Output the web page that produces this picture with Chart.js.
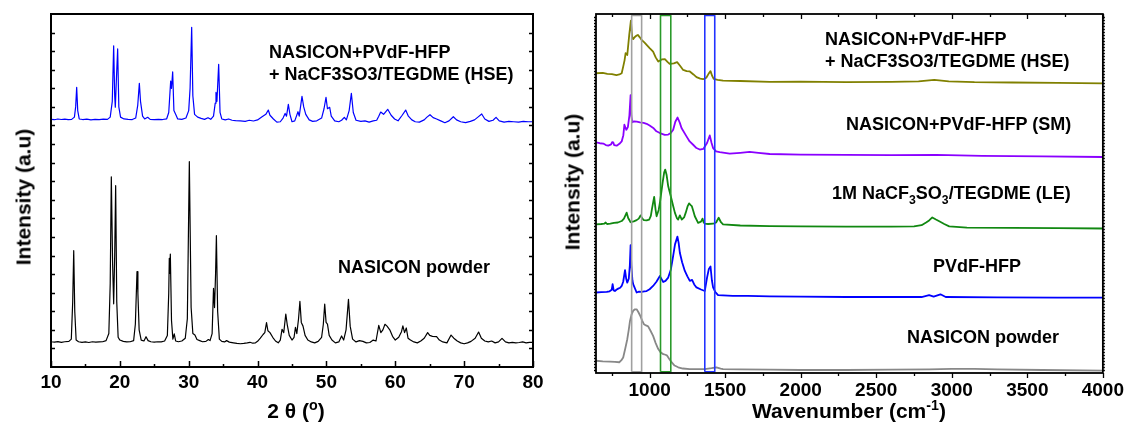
<!DOCTYPE html>
<html><head><meta charset="utf-8">
<script src="https://cdn.jsdelivr.net/npm/chart.js@4.4.1/dist/chart.umd.min.js"></script>
<style>
html,body{margin:0;padding:0;background:#fff;}
#wrap{position:relative;width:1130px;height:439px;overflow:hidden;font-family:"Liberation Sans",Arial,sans-serif;font-weight:bold;color:#000;}
canvas{position:absolute;left:0;top:0;}
.lbl{position:absolute;white-space:nowrap;font-size:18px;line-height:18px;}
.ttl{position:absolute;white-space:nowrap;font-size:21px;line-height:21px;}
.rot{transform:translate(-50%,-50%) rotate(-90deg);}
.ctr{transform:translateX(-50%);}
sub,sup{font-size:0.68em;line-height:0;}
</style></head>
<body><div id="wrap">
<canvas id="xrd" width="1130" height="439"></canvas>
<canvas id="ftir" width="1130" height="439"></canvas>
<div class="lbl" style="left:269px;top:43px">NASICON+PVdF-HFP</div>
<div class="lbl" style="left:269px;top:65px">+ NaCF3SO3/TEGDME (HSE)</div>
<div class="lbl" style="left:338px;top:258px">NASICON powder</div>
<div class="lbl" style="left:825px;top:30px">NASICON+PVdF-HFP</div>
<div class="lbl" style="left:825px;top:52px">+ NaCF3SO3/TEGDME (HSE)</div>
<div class="lbl" style="left:846px;top:115px">NASICON+PVdF-HFP (SM)</div>
<div class="lbl" style="left:832px;top:184px">1M NaCF<sub>3</sub>SO<sub>3</sub>/TEGDME (LE)</div>
<div class="lbl" style="left:933px;top:257px">PVdF-HFP</div>
<div class="lbl" style="left:907px;top:328px">NASICON powder</div>
<div class="ttl ctr" style="left:296px;top:400px">2&nbsp;θ&nbsp;(<sup>o</sup>)</div>
<div class="ttl ctr" style="left:849px;top:400px">Wavenumber (cm<sup>-1</sup>)</div>
<div class="ttl rot" style="left:23px;top:197px">Intensity (a.u)</div>
<div class="ttl rot" style="left:572px;top:182px">Intensity (a.u)</div>
</div>
<script>
// ---------- XRD panel data (2θ in degrees, intensity in arbitrary offset units) ----------
const xrdTicks = [10,20,30,40,50,60,70,80];
const xrdMinorTicks = [15,25,35,45,55,65,75];
const xrdNasicon = [
[10.0,5.4],[10.05,1.36],[10.5,1.34],[11.0,1.37],[11.5,1.33],[12.0,1.36],[12.6,1.38],[12.95,1.5],[13.15,3.5],[13.3,6.26],[13.45,3.0],[13.65,1.45],[14.0,1.36],[14.5,1.33],[15,1.35],[15.5,1.32],[16,1.36],[16.5,1.34],[17,1.35],[17.5,1.36],[18.0,1.42],[18.4,1.8],[18.6,4.5],[18.76,10.24],[18.95,5.5],[19.1,3.4],[19.25,6.0],[19.39,9.76],[19.55,3.5],[19.75,1.6],[20.0,1.45],[20.5,1.38],[21,1.35],[21.5,1.36],[22.0,1.42],[22.25,2.3],[22.49,5.13],[22.62,3.96],[22.8,2.0],[23.1,1.45],[23.5,1.4],[23.8,1.63],[24.1,1.42],[24.5,1.36],[25,1.34],[25.5,1.36],[26,1.35],[26.5,1.4],[26.9,1.7],[27.1,4.0],[27.18,5.85],[27.25,5.04],[27.33,6.08],[27.5,2.5],[27.7,1.5],[27.9,1.78],[28.1,1.4],[28.5,1.36],[29.0,1.4],[29.5,1.55],[29.8,2.6],[30.09,11.05],[30.35,3.2],[30.6,1.8],[30.9,1.72],[31.2,1.48],[31.6,1.42],[32.0,1.36],[32.5,1.38],[32.85,1.48],[33.1,1.42],[33.4,1.8],[33.6,4.23],[33.75,3.2],[33.9,5.0],[34.02,7.07],[34.2,3.0],[34.45,1.5],[34.8,1.38],[35.2,1.35],[35.5,1.42],[35.9,1.34],[36.5,1.3],[37,1.27],[37.5,1.25],[38,1.27],[38.5,1.3],[38.9,1.33],[39.3,1.28],[39.7,1.3],[40.0,1.38],[40.4,1.55],[40.8,1.75],[41.05,1.85],[41.3,2.39],[41.5,1.95],[41.8,1.85],[42.2,1.6],[42.6,1.4],[43.0,1.3],[43.3,1.45],[43.55,2.03],[43.8,1.85],[44.1,2.85],[44.3,2.3],[44.6,1.7],[45.0,1.45],[45.3,1.6],[45.5,2.13],[45.7,1.8],[45.95,2.6],[46.15,3.53],[46.35,2.4],[46.6,2.2],[46.9,1.7],[47.3,1.45],[47.8,1.35],[48.3,1.3],[48.8,1.38],[49.3,1.6],[49.55,2.3],[49.75,3.39],[49.95,2.4],[50.15,2.31],[50.4,1.7],[50.8,1.45],[51.3,1.3],[51.8,1.35],[52.2,1.67],[52.5,1.45],[52.85,2.0],[53.2,3.64],[53.45,2.2],[53.8,1.5],[54.3,1.35],[54.8,1.42],[55.3,1.38],[55.8,1.3],[56.3,1.32],[56.8,1.45],[57.2,1.4],[57.6,2.24],[57.9,1.85],[58.2,2.0],[58.5,2.30],[58.8,2.2],[59.2,2.0],[59.6,1.65],[60.0,1.45],[60.5,1.6],[60.9,1.9],[61.1,2.21],[61.35,1.85],[61.6,2.1],[61.85,1.55],[62.2,1.45],[62.7,1.35],[63.2,1.3],[63.7,1.4],[64.2,1.55],[64.7,1.85],[65.0,1.7],[65.4,1.65],[66.0,1.63],[66.4,1.45],[66.9,1.35],[67.5,1.3],[68.1,1.72],[68.5,1.55],[69.0,1.4],[69.5,1.3],[70.0,1.25],[70.5,1.3],[71.0,1.38],[71.6,1.55],[72.1,1.88],[72.5,1.55],[73.0,1.4],[73.5,1.35],[74.0,1.4],[74.5,1.3],[75.0,1.35],[75.5,1.54],[76.0,1.35],[76.5,1.3],[77.0,1.33],[77.5,1.3],[78,1.32],[78.5,1.35],[79,1.3],[79.5,1.33],[80,1.32]
];
const xrdHSE = [
[10.0,13.33],[10.5,13.31],[11,13.35],[11.5,13.32],[12,13.34],[12.5,13.31],[13.0,13.33],[13.4,13.45],[13.58,14.0],[13.73,15.05],[13.88,13.8],[14.1,13.35],[14.6,13.32],[15.2,13.34],[15.8,13.3],[16.4,13.33],[17.0,13.31],[17.6,13.34],[18.2,13.33],[18.6,13.45],[18.9,14.3],[19.1,17.29],[19.25,14.6],[19.34,13.98],[19.5,15.5],[19.68,17.12],[19.85,14.0],[20.1,13.45],[20.6,13.35],[21.2,13.33],[21.8,13.32],[22.3,13.4],[22.6,14.1],[22.83,15.27],[23.0,14.3],[23.3,13.5],[23.6,13.35],[24.04,13.44],[24.4,13.33],[25,13.31],[25.6,13.33],[26.2,13.32],[26.8,13.36],[27.1,13.7],[27.38,15.39],[27.5,15.0],[27.67,15.88],[27.85,13.8],[28.15,13.56],[28.4,13.35],[29,13.33],[29.6,13.4],[30.0,13.8],[30.2,15.0],[30.43,18.28],[30.6,14.6],[30.85,13.6],[31.3,13.45],[31.8,13.38],[32.3,13.33],[32.8,13.42],[33.2,13.33],[33.6,13.5],[33.85,14.2],[33.96,14.78],[34.1,14.3],[34.35,16.29],[34.55,13.7],[34.8,13.35],[35.3,13.3],[35.8,13.35],[36.3,13.28],[36.8,13.26],[37.5,13.25],[38.2,13.22],[38.8,13.28],[39.4,13.24],[40.0,13.3],[40.6,13.45],[41.2,13.6],[41.56,13.83],[41.8,13.55],[42.3,13.35],[42.8,13.18],[43.3,13.2],[43.7,13.4],[44.0,13.65],[44.2,13.5],[44.47,14.14],[44.7,13.6],[45.0,13.2],[45.4,13.25],[45.87,13.74],[46.05,13.5],[46.45,14.57],[46.7,14.0],[47.0,13.6],[47.5,13.3],[48,13.22],[48.6,13.25],[49.3,13.4],[49.65,13.9],[49.94,14.51],[50.15,13.9],[50.47,13.98],[50.7,13.5],[51.2,13.25],[51.8,13.2],[52.2,13.28],[52.6,13.44],[52.9,13.3],[53.3,13.8],[53.62,14.73],[53.9,13.7],[54.3,13.28],[55,13.22],[55.6,13.25],[56.2,13.18],[56.8,13.25],[57.3,13.28],[57.6,13.5],[57.88,13.72],[58.3,13.6],[58.9,13.87],[59.4,13.55],[59.9,13.35],[60.4,13.25],[61.0,13.55],[61.51,13.83],[61.9,13.5],[62.4,13.3],[62.9,13.2],[63.5,13.18],[64.2,13.3],[64.6,13.45],[65.04,13.58],[65.5,13.42],[66.0,13.35],[66.6,13.25],[67.2,13.15],[67.8,13.25],[68.43,13.47],[68.9,13.3],[69.5,13.2],[70.2,13.15],[70.9,13.22],[71.5,13.3],[72.0,13.45],[72.55,13.62],[73.0,13.35],[73.6,13.22],[74.2,13.28],[74.63,13.44],[75.1,13.25],[75.8,13.18],[76.5,13.22],[77.2,13.2],[77.9,13.18],[78.6,13.22],[79.3,13.2],[80,13.2]
];

// ---------- FTIR panel data (wavenumber in cm-1, intensity in arbitrary offset units) ----------
const ftirTicks = [1000,1500,2000,2500,3000,3500,4000];
const ftirMinorTicks = [750,1250,1750,2250,2750,3250,3750];
const ftirHSE = [
[645,100.2],[690,100.3],[720,100.0],[750,99.9],[780,99.6],[800,99.8],[815,100.2],[825,102.4],[834,104.5],[841,106.9],[852,106.3],[865,113],[876,117.8],[884,112.5],[891,111.6],[902,112.3],[914,112.8],[922,113.0],[935,112.2],[947,111.3],[965,110.5],[980,109.7],[1000,108.6],[1023,107.4],[1040,105.5],[1057,104.1],[1080,104.8],[1101,104.9],[1118,104.0],[1134,103.3],[1160,103.5],[1182,103.9],[1200,102.8],[1222,101.3],[1245,100.9],[1266,100.8],[1290,99.8],[1310,98.9],[1335,98.4],[1354,98.2],[1375,98.7],[1390,100.0],[1403,100.9],[1414,99.3],[1424,98.3],[1450,98.0],[1486,97.7],[1600,97.6],[1795,97.3],[2000,97.4],[2300,97.2],[2600,97.3],[2780,97.5],[2884,98.0],[2980,97.5],[3150,97.2],[3400,97.1],[3700,97.0],[4000,96.8]
];
const ftirSM = [
[645,77.1],[670,76.8],[693,76.7],[710,76.2],[726,76.0],[745,76.4],[752,77.2],[759,77.1],[765,76.2],[782,76.0],[800,76.6],[815,77.4],[826,79.5],[833,83.0],[840,82.0],[846,81.3],[856,82.2],[866,86],[874,92.9],[879,86],[885,83.8],[896,84.1],[915,84.0],[936,83.8],[960,83.6],[980,83.3],[1000,82.7],[1024,81.9],[1045,80.8],[1068,80.2],[1100,79.6],[1123,79.7],[1140,80.2],[1156,81.3],[1170,84.0],[1185,85.4],[1200,83.6],[1211,81.9],[1244,79.1],[1265,77.4],[1288,76.3],[1310,75.2],[1332,74.7],[1355,74.9],[1380,76.9],[1398,79.4],[1410,76.9],[1420,75.2],[1440,74.1],[1464,73.8],[1530,73.3],[1600,73.6],[1662,73.9],[1720,73.6],[1795,73.2],[2000,73.0],[2300,72.9],[2600,72.8],[2900,72.9],[3200,72.6],[3600,72.4],[4000,72.2]
];
const ftirLE = [
[645,49.7],[680,49.8],[700,49.9],[709,50.3],[718,49.8],[740,49.9],[764,50.2],[790,50.3],[815,50.8],[830,51.6],[848,53.6],[858,51.8],[874,50.4],[895,50.7],[914,51.1],[928,51.6],[940,52.7],[952,51.6],[962,51.1],[980,51.0],[997,51.3],[1008,52.5],[1015,54.7],[1030,58.9],[1039,54.7],[1046,52.4],[1060,54.5],[1068,56.9],[1086,63.6],[1096,67.0],[1103,68.0],[1112,66.3],[1123,62.4],[1140,59.1],[1155,56.0],[1167,53.6],[1180,51.8],[1189,51.3],[1200,52.7],[1213,51.3],[1228,52.0],[1239,53.6],[1252,55.8],[1261,56.7],[1270,56.2],[1279,55.8],[1290,54.0],[1299,52.4],[1321,50.2],[1340,50.6],[1350,51.6],[1358,50.3],[1365,49.9],[1387,49.8],[1420,49.9],[1440,50.3],[1457,51.9],[1472,50.4],[1486,49.7],[1600,49.3],[1795,49.1],[2000,49.0],[2300,48.9],[2600,48.9],[2750,49.0],[2800,49.4],[2830,50.3],[2850,51.0],[2871,52.0],[2895,51.3],[2917,50.7],[2950,49.8],[2983,49.0],[3100,48.6],[3400,48.5],[3700,48.4],[4000,48.3]
];
const ftirPVDF = [
[645,26.9],[680,27.0],[716,27.1],[735,27.3],[749,27.8],[755,29.7],[762,27.6],[770,27.4],[782,27.9],[792,28.2],[805,28.5],[815,29.1],[825,30.5],[837,34.4],[845,31.5],[852,30.2],[862,31.5],[869,36],[874,42.7],[879,36],[886,31],[891,29.7],[914,26.9],[930,27.2],[947,27.1],[965,27.3],[980,27.4],[1000,28.0],[1023,29.1],[1045,30.5],[1068,32.4],[1080,31.3],[1090,30.4],[1105,30.8],[1123,31.9],[1140,34.5],[1152,38],[1168,43],[1184,45.6],[1192,43.5],[1200,40.2],[1215,37],[1233,34.1],[1250,32.3],[1266,30.8],[1281,31.1],[1295,29.6],[1310,28.6],[1340,27.9],[1365,27.4],[1380,31.9],[1392,34.8],[1403,35.6],[1412,31.0],[1420,28.6],[1435,27.0],[1453,26.0],[1550,25.8],[1650,25.8],[1795,25.6],[2000,25.5],[2300,25.4],[2600,25.4],[2800,25.4],[2850,26.0],[2880,25.5],[2925,26.3],[2960,25.4],[3300,25.3],[3700,25.2],[4000,25.2]
];
const ftirNasicon = [
[645,4.1],[690,3.9],[737,3.8],[770,3.7],[799,3.6],[812,4.2],[825,5.2],[838,8],[852,11.3],[862,14.5],[870,17.4],[880,19.5],[891,20.8],[903,21.3],[914,21.3],[925,20.4],[936,19.3],[950,17.6],[962,16.3],[976,15.9],[990,15.6],[1005,14.2],[1023,12.4],[1040,10.0],[1057,8.0],[1073,6.9],[1090,6.3],[1105,6.1],[1116,5.8],[1130,4.7],[1145,3.6],[1165,2.5],[1189,1.9],[1220,1.5],[1266,1.3],[1320,1.3],[1365,1.3],[1410,1.6],[1442,1.9],[1470,1.5],[1486,1.3],[1600,1.2],[1795,1.1],[2000,1.0],[2300,1.0],[2600,1.1],[2850,1.2],[3000,1.4],[3150,1.4],[3300,1.2],[3600,1.0],[4000,0.8]
];
// marker bands (cm-1): [left edge, right edge]
const bandGray = [881, 947];
const bandGreen = [1072, 1140];
const bandBlue = [1365, 1431];

// ---------- helpers ----------
const FONT = "'Liberation Sans', Arial, sans-serif";
const pts = a => a.map(p => ({x: p[0], y: p[1]}));
const line = (data, color, w, order) => ({data: pts(data), borderColor: color, borderWidth: w, pointRadius: 0, tension: 0, fill: false, order: order, borderJoinStyle: 'round'});
function bandBox(b, lo, hi, color) {
  return line([[b[0],lo],[b[0],hi],[b[1],hi],[b[1],lo],[b[0],lo]], color, 1.6, 0);
}

function framePlugin(cfg) {
  return {
    id: 'frame',
    afterDatasetsDraw(chart) {
      const {ctx, chartArea: a, scales: {x, y}} = chart;
      ctx.save();
      ctx.strokeStyle = '#000';
      ctx.lineWidth = cfg.tickWidth;
      ctx.beginPath();
      const vt = (v, len, dirB, dirT) => {
        const px = Math.round(x.getPixelForValue(v)) + 0.5;
        if (dirB) { ctx.moveTo(px, a.bottom); ctx.lineTo(px, a.bottom + dirB * len); }
        if (dirT) { ctx.moveTo(px, a.top); ctx.lineTo(px, a.top + dirT * len); }
      };
      cfg.xMajor.forEach(v => vt(v, cfg.majorLen, cfg.bottomDir, cfg.topDir));
      cfg.xMinor.forEach(v => vt(v, cfg.minorLen, cfg.bottomDir, cfg.topDir));
      for (let v = y.min + cfg.yStep; v < y.max - 1e-6; v += cfg.yStep) {
        const py = Math.round(y.getPixelForValue(v)) + 0.5;
        ctx.moveTo(a.left, py); ctx.lineTo(a.left + cfg.yDir * cfg.yLen, py);
        ctx.moveTo(a.right, py); ctx.lineTo(a.right - cfg.yDir * cfg.yLen, py);
      }
      ctx.stroke();
      ctx.lineWidth = cfg.frameWidth;
      ctx.strokeRect(a.left, a.top, a.right - a.left, a.bottom - a.top);
      ctx.restore();
    }
  };
}

function baseOptions(pad, xmin, xmax, ticks, axisH, tickPad, ymin, ymax) {
  return {
    responsive: false, animation: false, devicePixelRatio: 1,
    layout: {padding: pad},
    plugins: {legend: {display: false}, tooltip: {enabled: false}, title: {display: false}},
    scales: {
      x: {
        type: 'linear', min: xmin, max: xmax,
        grid: {display: false, drawTicks: false}, border: {display: false},
        afterBuildTicks: s => { s.ticks = ticks.map(v => ({value: v})); },
        afterFit: s => { s.height = axisH; },
        ticks: {autoSkip: false, maxRotation: 0, padding: tickPad, color: '#000',
          callback: v => String(v),
          font: {family: FONT, size: 19, weight: 'bold'}}
      },
      y: {type: 'linear', min: ymin, max: ymax, display: false}
    }
  };
}

// ---------- left: XRD ----------
new Chart(document.getElementById('xrd'), {
  type: 'line',
  data: {datasets: [
    line(xrdHSE, '#0000ff', 1.2, 1),
    line(xrdNasicon, '#000000', 1.2, 1)
  ]},
  options: baseOptions({left: 51, top: 14, right: 1130 - 533, bottom: 0}, 10, 80, xrdTicks, 439 - 367, 4, 0, 19),
  plugins: [framePlugin({xMajor: xrdTicks, xMinor: xrdMinorTicks, majorLen: 6, minorLen: 3, bottomDir: -1, topDir: 0,
    yStep: 1, yLen: 4, yDir: 1, tickWidth: 1.5, frameWidth: 2})]
});

// ---------- right: FTIR ----------
const yLo = 0, yHi = 120;
new Chart(document.getElementById('ftir'), {
  type: 'line',
  data: {datasets: [
    line(ftirHSE, '#808000', 1.8, 1),
    line(ftirSM, '#8a00ff', 1.8, 1),
    line(ftirLE, '#118811', 1.8, 1),
    line(ftirPVDF, '#0000ff', 1.8, 1),
    line(ftirNasicon, '#888888', 1.8, 1),
    bandBox(bandGray, yLo + 0.4, yHi - 0.5, '#a0a0a0'),
    bandBox(bandGreen, yLo + 0.4, yHi - 0.5, '#2a9a2a'),
    bandBox(bandBlue, yLo + 0.4, yHi - 0.5, '#2233ff')
  ]},
  options: baseOptions({left: 596, top: 14, right: 1130 - 1105, bottom: 0}, 645, 4000, ftirTicks, 439 - 373, 6, yLo, yHi),
  plugins: [framePlugin({xMajor: ftirTicks, xMinor: ftirMinorTicks, majorLen: 5, minorLen: 3, bottomDir: 1, topDir: 1,
    yStep: 1, yLen: 2, yDir: -1, tickWidth: 1.3, frameWidth: 1.8})]
});
</script>
</body></html>
